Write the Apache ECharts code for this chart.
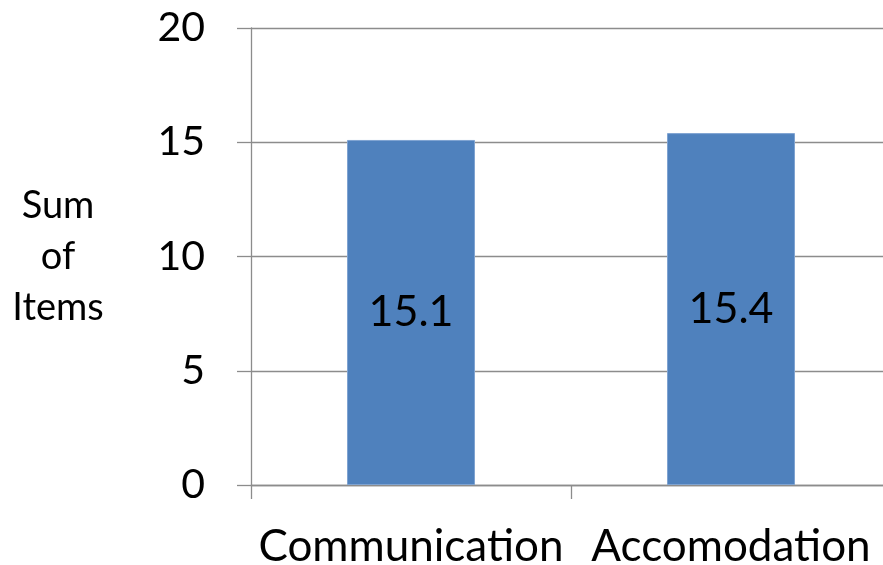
<!DOCTYPE html>
<html>
<head>
<meta charset="utf-8">
<script src="https://cdn.jsdelivr.net/npm/echarts@6/dist/echarts.min.js"></script>
<style>
  html, body { margin: 0; padding: 0; background: #fff; }
  #chart { width: 883px; height: 565px; }
</style>
</head>
<body>
<div id="chart"></div>
<script>
// Category names and their summed item counts
const categories = ['Communication', 'Accomodation'];
const sumOfItems = [15.1, 15.4];
// Value-axis range
const yMin = 0;
const yMax = 20;
const yStep = 5;

const FONT = 'Lato, "Open Sans", sans-serif';
const AXIS_GREY = '#8c8c8c';

const chart = echarts.init(document.getElementById('chart'), null, { renderer: 'canvas' });

chart.setOption({
  animation: false,
  backgroundColor: '#ffffff',
  // plot area runs slightly past the right edge of the canvas
  grid: { left: 251, width: 640, top: 28, bottom: 80, containLabel: false, outerBoundsMode: 'none' },
  xAxis: {
    type: 'category',
    data: categories,
    axisLine: { show: true, lineStyle: { color: AXIS_GREY, width: 1.3 } },
    axisTick: { show: true, length: 14, alignWithLabel: false, lineStyle: { color: AXIS_GREY, width: 1.3 } },
    axisLabel: { color: '#000', fontFamily: FONT, fontSize: 44, margin: 40, interval: 0 },
    splitLine: { show: false }
  },
  yAxis: {
    type: 'value',
    min: yMin,
    max: yMax,
    interval: yStep,
    name: 'Sum\nof\nItems',
    nameLocation: 'middle',
    nameRotate: 0,
    nameGap: 193,
    nameTextStyle: { color: '#000', fontFamily: FONT, fontSize: 38, lineHeight: 51, align: 'center', padding: [22, 0, 0, 0] },
    axisLine: { show: true, lineStyle: { color: AXIS_GREY, width: 1.3 } },
    axisTick: { show: true, length: 14, lineStyle: { color: AXIS_GREY, width: 1.3 } },
    axisLabel: { color: '#000', fontFamily: FONT, fontSize: 41, margin: 46 },
    splitLine: { show: true, lineStyle: { color: AXIS_GREY, width: 1.3 } }
  },
  series: [{
    type: 'bar',
    data: sumOfItems,
    barWidth: '40%',
    itemStyle: { color: '#4f81bd', borderColor: '#7fa3d1', borderWidth: 1 },
    label: {
      show: true,
      position: 'inside',
      color: '#000',
      fontFamily: FONT,
      fontSize: 43,
      formatter: p => p.value.toFixed(1)
    }
  }]
});
</script>
</body>
</html>
